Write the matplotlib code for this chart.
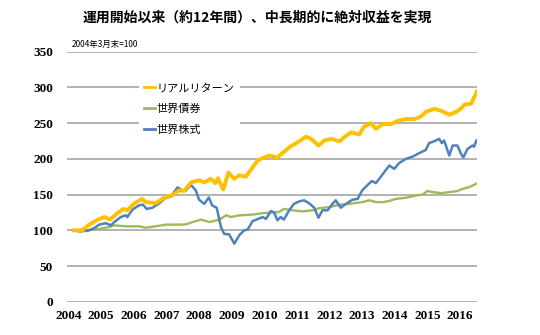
import matplotlib
matplotlib.use('Agg')
import matplotlib.pyplot as plt

plt.rcParams['font.family'] = ['Noto Sans CJK JP', 'DejaVu Sans']

# ── データ（2004年3月末=100） ───────────────────────────
real_x = [2004.17, 2004.4, 2004.6, 2004.9, 2005.1, 2005.27, 2005.5, 2005.68, 2005.8,
          2006.0, 2006.25, 2006.37, 2006.67, 2006.98, 2007.18, 2007.39, 2007.54, 2007.75,
          2008.0, 2008.16, 2008.36, 2008.5, 2008.58, 2008.74, 2008.9, 2009.07, 2009.23,
          2009.43, 2009.64, 2009.8, 2009.95, 2010.15, 2010.4, 2010.76, 2011.07, 2011.28,
          2011.43, 2011.66, 2011.84, 2012.04, 2012.3, 2012.5, 2012.66, 2012.91, 2013.06,
          2013.27, 2013.42, 2013.63, 2013.88, 2014.09, 2014.35, 2014.6, 2014.8, 2014.96,
          2015.22, 2015.43, 2015.68, 2015.89, 2016.04, 2016.14, 2016.34, 2016.44, 2016.52]
real_y = [100, 100, 107, 115, 118.6, 115, 124, 130, 128,
          137, 144, 139.5, 138, 147, 149, 156, 155, 167,
          170, 167, 172, 166, 173, 157, 181, 172, 177,
          175, 188, 198, 201, 204.6, 202, 216, 224.6, 231,
          228, 218.6, 225.6, 228, 224.5, 232, 237, 234, 245,
          250, 242, 248.6, 248.6, 253, 255.6, 255.6, 259, 266,
          270, 267, 261.6, 266, 271, 276, 277, 287, 294]

bond_x = [2004.17, 2004.37, 2004.63, 2004.94, 2005.24, 2005.4, 2005.75, 2006.16, 2006.37,
          2006.67, 2006.98, 2007.39, 2007.6, 2007.8, 2008.06, 2008.32, 2008.62, 2008.83,
          2008.98, 2009.23, 2009.64, 2009.95, 2010.45, 2010.6, 2010.86, 2011.17, 2011.48,
          2011.68, 2011.99, 2012.3, 2012.6, 2013.0, 2013.22, 2013.42, 2013.63, 2013.83,
          2014.03, 2014.34, 2014.65, 2014.85, 2015.0, 2015.16, 2015.41, 2015.67, 2015.92,
          2016.08, 2016.28, 2016.49]
bond_y = [100, 97.7, 100.5, 102, 104.6, 107, 105.6, 105.6, 103.7,
          105.6, 108, 108, 108.4, 111.6, 115, 111.6, 115, 121,
          118.6, 121, 122, 124, 125.6, 130, 128, 126.5, 128,
          131, 132.5, 135.8, 137, 139.5, 141.9, 139.5, 139.5, 141,
          144, 145.6, 148.8, 150, 155, 153.5, 152, 153.5, 155,
          158, 160.5, 165]

equity_x = [2004.17, 2004.32, 2004.47, 2004.57, 2004.78, 2004.94, 2005.14, 2005.3, 2005.4,
            2005.6, 2005.75, 2005.8, 2005.96, 2006.16, 2006.28, 2006.39, 2006.57, 2006.78,
            2006.98, 2007.13, 2007.34, 2007.5, 2007.6, 2007.75, 2007.9, 2008.0, 2008.16,
            2008.3, 2008.4, 2008.54, 2008.67, 2008.77, 2008.92, 2009.08, 2009.23, 2009.38,
            2009.49, 2009.64, 2009.8, 2009.95, 2010.05, 2010.2, 2010.3, 2010.4, 2010.5,
            2010.6, 2010.76, 2010.91, 2011.07, 2011.22, 2011.37, 2011.53, 2011.66, 2011.78,
            2011.94, 2012.09, 2012.19, 2012.34, 2012.5, 2012.7, 2012.86, 2013.0, 2013.2,
            2013.3, 2013.42, 2013.52, 2013.67, 2013.83, 2013.98, 2014.13, 2014.34, 2014.54,
            2014.75, 2014.95, 2015.05, 2015.26, 2015.36, 2015.44, 2015.51, 2015.67, 2015.77,
            2015.92, 2016.03, 2016.1, 2016.23, 2016.38, 2016.43, 2016.5]
equity_y = [100, 99, 102, 99, 103, 108, 110, 107, 111.6,
            118.6, 121, 118.6, 129, 135, 136, 130, 131.6, 138,
            145.6, 147, 160, 155.8, 155.8, 163.7, 155.8, 142.8, 137,
            146, 134.9, 131.6, 104.7, 95, 94.4, 81.4, 93, 100,
            101, 113, 115.8, 118.6, 116, 127, 125, 114, 118.6,
            115, 128, 137, 140.5, 142, 138, 131.6, 117.6, 128,
            128, 137, 142, 131.6, 137, 142.8, 144, 155.8, 165,
            169, 166, 172, 181, 190.7, 186, 194, 200, 203,
            208, 212.5, 222, 225.6, 228, 222, 225.6, 204.6, 218.6,
            218.6, 207, 202, 214, 218.6, 217, 225.6]

year_ticks = list(range(2004, 2017))
y_ticks = [0, 50, 100, 150, 200, 250, 300, 350]

# ── 描画 ──────────────────────────────────────────────
fig = plt.figure(figsize=(5.4, 3.35), dpi=100)
ax = fig.add_axes([0.124, 0.099, 0.76, 0.747])

ax.set_ylim(0, 350)
ax.set_xlim(2003.95, 2016.53)
ax.set_yticks(y_ticks)
ax.set_xticks(year_ticks)
ax.grid(axis='y', color='#a6a6a6', linewidth=1.2)
ax.set_axisbelow(True)
for s in ax.spines.values():
    s.set_visible(False)
ax.tick_params(length=0, pad=6)
for lab in ax.get_xticklabels() + ax.get_yticklabels():
    lab.set_family('Liberation Serif')
    lab.set_fontweight('bold')
    lab.set_fontsize(9.5)
ax.tick_params(axis='y', pad=10)

l_bond, = ax.plot(bond_x, bond_y, color='#9bbb59', lw=1.7, label='世界債券')
l_eq, = ax.plot(equity_x, equity_y, color='#4f81bd', lw=1.8, label='世界株式')
l_real, = ax.plot(real_x, real_y, color='#ffc000', lw=2.8, label='リアルリターン')

leg = ax.legend(handles=[l_real, l_bond, l_eq], loc='upper left',
                bbox_to_anchor=(133 / 540, 1 - 72 / 335), bbox_transform=fig.transFigure,
                fontsize=8, frameon=True, fancybox=False, edgecolor='none',
                facecolor='white', framealpha=1, handlelength=1.0, handletextpad=0.1,
                labelspacing=0.95, borderpad=0.5)
for h in leg.get_lines():
    h.set_linewidth(2)

fig.text(257 / 540, 1 - 18 / 335, '運用開始以来（約12年間）、中長期的に絶対収益を実現',
         ha='center', va='center', fontsize=10, fontweight='bold')
fig.text(72 / 540, 1 - 44 / 335, '2004年3月末=100', ha='left', va='center', fontsize=6)

fig.savefig('out.png', dpi=100)
